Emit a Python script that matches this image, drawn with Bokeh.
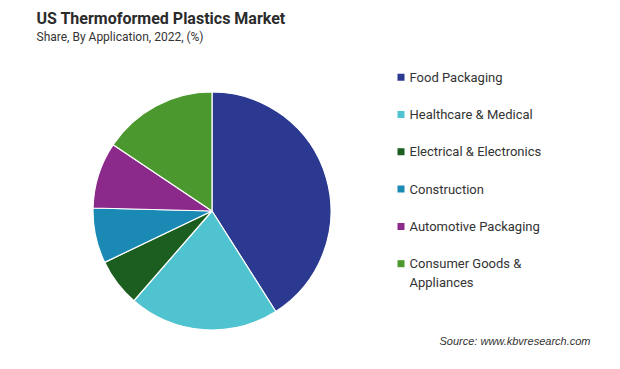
import math
from bokeh.plotting import figure
from bokeh.models import Range1d, ColumnDataSource
from bokeh.core.properties import value
from bokeh.embed import file_html
from bokeh.resources import INLINE

categories = ["Food Packaging", "Healthcare & Medical", "Electrical & Electronics",
              "Construction", "Automotive Packaging", "Consumer Goods &\nAppliances"]
shares = [41.0, 20.4, 6.5, 7.5, 9.0, 15.6]
colors = ["#2B3990", "#4FC3CF", "#1B5E20", "#1A8AB5", "#8B2A8A", "#4A982E"]

W, H = 604, 353
p = figure(width=W, height=H, output_backend="svg", toolbar_location=None,
           x_range=Range1d(0, W), y_range=Range1d(0, H), min_border=0)
p.axis.visible = False
p.grid.visible = False
p.outline_line_color = None
p.background_fill_color = "white"
p.border_fill_color = "white"

def fx(x):
    return x

def fy(y):
    return H - y

total = sum(shares)
starts, ends = [], []
cum = 0.0
for s in shares:
    starts.append(math.pi / 2 - cum / total * 2 * math.pi)
    cum += s
    ends.append(math.pi / 2 - cum / total * 2 * math.pi)

src = ColumnDataSource(dict(start=starts, end=ends, color=colors))
p.wedge(x=fx(211.5), y=fy(210.5), radius=119, start_angle="start", end_angle="end",
        direction="clock", fill_color="color", line_color="white", line_width=1.2, source=src)

# title
p.text(x=[fx(36)], y=[fy(18)], text=["US Thermoformed  Plastics Market"],
       text_font=value("Roboto"), text_font_style="bold", text_font_size="16px",
       text_color="#2b2b2b", text_baseline="middle", text_align="left")
p.text(x=[fx(36)], y=[fy(36)], text=["Share, By Application, 2022, (%)"],
       text_font=value("Roboto"), text_font_size="12px",
       text_color="#333333", text_baseline="middle", text_align="left")

# legend
row0, step = 76.7, 37.3
ly = [fy(row0 + i * step) for i in range(len(categories))]
p.rect(x=[fx(400.5)] * len(categories), y=ly, width=7, height=7, fill_color=colors, line_color=None)
for i, lab in enumerate(categories):
    lines = lab.split("\n")
    for j, ln in enumerate(lines):
        p.text(x=[fx(409)], y=[ly[i] - j * 18.5], text=[ln], text_font=value("Roboto"),
               text_font_size="13px", text_color="#333333", text_baseline="middle",
               text_align="left")

p.text(x=[fx(590)], y=[fy(340)], text=["Source: www.kbvresearch.com"],
       text_font=value("Liberation Sans"), text_font_style="italic", text_font_size="11px",
       text_color="#333333", text_baseline="middle", text_align="right")

open("out.html", "w").write(file_html(p, INLINE))
